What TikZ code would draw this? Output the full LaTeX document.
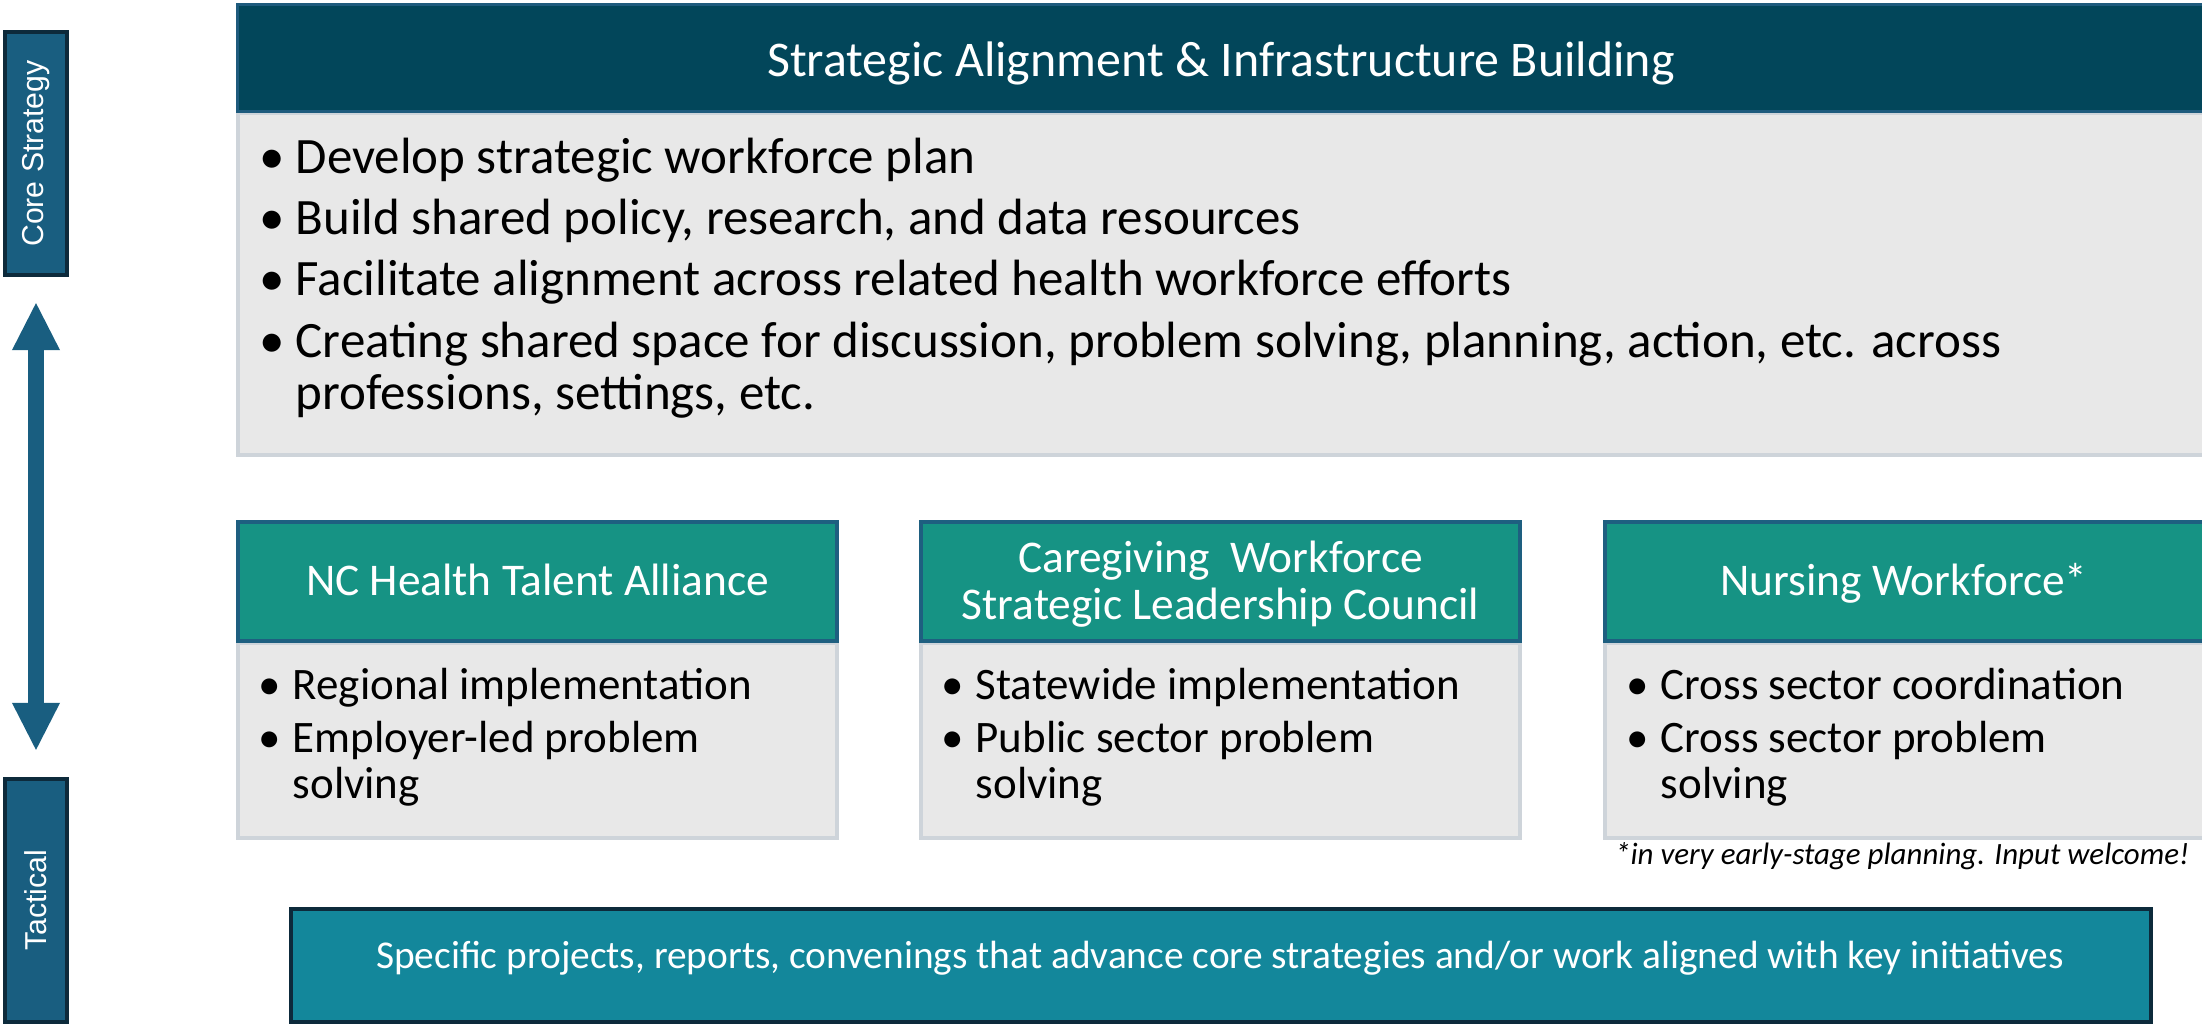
\documentclass[tikz,border=0pt]{standalone}
\usepackage{fontspec}
\setmainfont{Carlito}
\newfontfamily\sidefont{Liberation Sans}
\usetikzlibrary{arrows.meta}

\definecolor{sideblue}{HTML}{195E80}
\definecolor{sideedge}{HTML}{0D2A3B}
\definecolor{topdark}{HTML}{02465A}
\definecolor{topedge}{HTML}{1E5B7D}
\definecolor{panelgray}{HTML}{E8E8E8}
\definecolor{paneledge}{HTML}{CED4DA}
\definecolor{tealhead}{HTML}{169384}
\definecolor{tealedge}{HTML}{1E5F80}
\definecolor{projteal}{HTML}{13879B}

\tikzset{
  sidebox/.style={draw=sideedge, fill=sideblue, line width=0.04cm, minimum width=0.62cm,
    minimum height=2.43cm, inner sep=0pt, text=white, font=\sidefont\fontsize{8.6}{10}\selectfont},
  panel/.style={draw=paneledge, fill=panelgray, line width=0.04cm},
  head/.style={draw=tealedge, fill=tealhead, line width=0.04cm},
  headtext/.style={text=white, anchor=base, inner sep=0pt, font=\fontsize{12.9}{13.4}\selectfont},
  bullet/.style={anchor=base west, inner sep=0pt, font=\fontsize{12.8}{13.1}\selectfont},
  bigbullet/.style={anchor=base west, inner sep=0pt, font=\fontsize{14.5}{15}\selectfont}
}
\newcommand{\bul}{\makebox[0.34cm][l]{\textbullet}}
\newcommand{\bigbul}{\makebox[0.36cm][l]{\textbullet}}

\begin{document}
\begin{tikzpicture}[x=0.01cm, y=-0.01cm]
\useasboundingbox (0,0) rectangle (2202,1024);

% side labels with the double arrow
\node[sidebox](core) at (36,153.5) {\rotatebox{90}{Core Strategy}};
\node[sidebox](tact) at (36,900.5) {\rotatebox{90}{Tactical}};
\draw[line width=0.16cm, sideblue,
  {Triangle[length=0.47cm,width=0.48cm,line width=0pt]}-{Triangle[length=0.47cm,width=0.48cm,line width=0pt]},
  shorten <=0.26cm, shorten >=0.27cm] (core.south) -- (tact.north);

% core strategy panel
\draw[panel] (238,113) rectangle (2215,455);
\draw[draw=topedge, fill=topdark, line width=0.03cm] (237.5,4.5) rectangle (2215,111);
\node[anchor=base, text=white, inner sep=0pt, font=\fontsize{14.2}{15}\selectfont](title) at (1221,77)
  {Strategic Alignment \& Infrastructure Building};
\node[bigbullet](s1) at (259,173) {\bigbul Develop strategic workforce plan};
\node[bigbullet](s2) at (259,234) {\bigbul Build shared policy, research, and data resources};
\node[bigbullet](s3) at (259,295) {\bigbul Facilitate alignment across related health workforce efforts};
\node[bigbullet](s4) at (259,357) {\bigbul Creating shared space for discussion, problem solving, planning, action, etc. across};
\node[bigbullet](s4b) at (295,409) {professions, settings, etc.};

% key initiatives
\draw[panel] (238,643) rectangle (837,838);
\draw[head] (238,522) rectangle (837,641);
\node[headtext](h1) at (537.5,595) {NC Health Talent Alliance};
\node[bullet](a1) at (258,699) {\bul Regional implementation};
\node[bullet](a2) at (258,752) {\bul Employer-led problem};
\node[bullet](a2b) at (292,798) {solving};

\draw[panel] (921,643) rectangle (1520,838);
\draw[head] (921,522) rectangle (1520,641);
\node[headtext](h2) at (1220.5,572) {Caregiving\ \ Workforce};
\node[headtext](h2b) at (1220.5,619) {Strategic Leadership Council};
\node[bullet](b1) at (941,699) {\bul Statewide implementation};
\node[bullet](b2) at (941,752) {\bul Public sector problem};
\node[bullet](b2b) at (975,798) {solving};

\draw[panel] (1605,643) rectangle (2215,838);
\draw[head] (1605,522) rectangle (2215,641);
\node[headtext](h3) at (1904,595) {Nursing Workforce*};
\node[bullet](c1) at (1626,699) {\bul Cross sector coordination};
\node[bullet](c2) at (1626,752) {\bul Cross sector problem};
\node[bullet](c2b) at (1660,798) {solving};

\node[anchor=base east, inner sep=0pt, font=\itshape\fontsize{8.8}{10}\selectfont](note) at (2190,864)
  {*in very early-stage planning. Input welcome!};

% tactical work
\draw[draw=sideedge, fill=projteal, line width=0.04cm] (291,909) rectangle (2151,1022);
\node[anchor=base, text=white, inner sep=0pt, font=\fontsize{11.2}{12}\selectfont](proj) at (1220,968)
  {Specific projects, reports, convenings that advance core strategies and/or work aligned with key initiatives};
\end{tikzpicture}
\end{document}
